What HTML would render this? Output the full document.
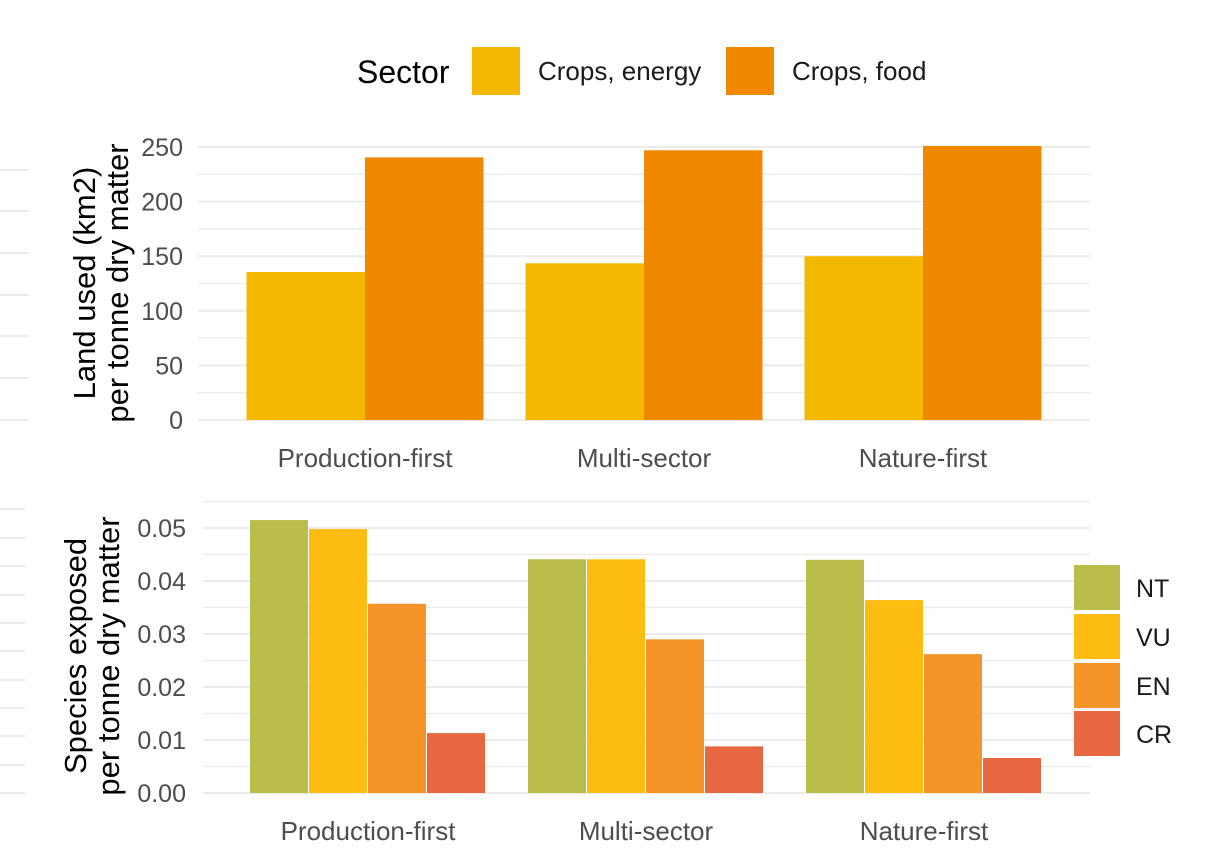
<!DOCTYPE html>
<html><head><meta charset="utf-8"><style>
html,body{margin:0;padding:0;background:#fff;}
svg{display:block;font-family:"Liberation Sans",Arial,sans-serif;}
</style></head><body>
<svg id="chart" width="1215" height="866" viewBox="0 0 1215 866" xmlns="http://www.w3.org/2000/svg">
<g id="stubs"></g>
<g id="topPanel"></g>
<g id="botPanel"></g>
<g>
<text x="357" y="83" font-size="32" fill="#000">Sector</text>
<rect x="472" y="47" width="48" height="48" fill="#F5B800"/>
<text x="538" y="80" font-size="26" fill="#1a1a1a">Crops, energy</text>
<rect x="726" y="47" width="48" height="48" fill="#F08800"/>
<text x="792" y="80" font-size="26" fill="#1a1a1a">Crops, food</text>
</g>
<g id="leg2"></g>
<text transform="translate(95,283) rotate(-90)" text-anchor="middle" font-size="31">Land used (km2)</text>
<text transform="translate(128,283) rotate(-90)" text-anchor="middle" font-size="31">per tonne dry matter</text>
<text transform="translate(86,656) rotate(-90)" text-anchor="middle" font-size="31">Species exposed</text>
<text transform="translate(119,656) rotate(-90)" text-anchor="middle" font-size="31">per tonne dry matter</text>
</svg>
<script>
const categories = ["Production-first","Multi-sector","Nature-first"];
const energyValues = [135.5, 143.5, 150];
const foodValues = [240.5, 247, 251];
const topTicks = [0,50,100,150,200,250];
const speciesSeries = ["NT","VU","EN","CR"];
const ntValues = [0.0515, 0.0441, 0.0440];
const vuValues = [0.0498, 0.0441, 0.0364];
const enValues = [0.0357, 0.0290, 0.0262];
const crValues = [0.0113, 0.0088, 0.0066];
const botTicks = [0,0.01,0.02,0.03,0.04,0.05];

const NS="http://www.w3.org/2000/svg";
function mk(parent,tag,attrs,text){const e=document.createElementNS(NS,tag);for(const k in attrs)e.setAttribute(k,attrs[k]);if(text!==undefined)e.textContent=text;parent.appendChild(e);return e;}
const stubs=document.getElementById('stubs');
[170,211,253,295,336,378,420].forEach(y=>{const l=mk(stubs,'line',{x1:0,x2:29,y1:y,y2:y,stroke:'#ebebeb','stroke-width':2});

});
[509,538,566,595,623,651,680,708,736,765,793].forEach(y=>{const l=mk(stubs,'line',{x1:0,x2:25,y1:y,y2:y,stroke:'#ebebeb','stroke-width':2});

});

// top panel
const topG=document.getElementById('topPanel');
const ty=v=>420-v*273/250;
const centers=[365,644,923];
const tx=i=>centers[i];
for(let v=0;v<=250;v+=25){const l=mk(topG,'line',{x1:198,x2:1090,y1:ty(v),y2:ty(v),stroke:'#ebebeb','stroke-width':v%50===0?2:1.3});

}
topTicks.forEach(v=>{const t=mk(topG,'text',{x:183,y:ty(v)+9,'text-anchor':'end','font-size':25,fill:'#4d4d4d'},String(v));

});
const bwTop=118.5;
categories.forEach((c,i)=>{
 const r1=mk(topG,'rect',{x:tx(i)-bwTop,y:ty(energyValues[i]),width:bwTop,height:ty(0)-ty(energyValues[i]),fill:'#F5B800'});
 
 
 const r2=mk(topG,'rect',{x:tx(i),y:ty(foodValues[i]),width:bwTop,height:ty(0)-ty(foodValues[i]),fill:'#F08800'});
 
 
 const t=mk(topG,'text',{x:tx(i),y:467,'text-anchor':'middle','font-size':26,fill:'#4d4d4d'},c);
 
 
});

// bottom panel
const botG=document.getElementById('botPanel');
const by=v=>793-v*5300;
const bcent=[368,646,924];
for(let k=0;k<=11;k++){const v=k*0.005;const l=mk(botG,'line',{x1:203,x2:1090,y1:by(v),y2:by(v),stroke:'#ebebeb','stroke-width':k%2===0?2:1.3});

}
botTicks.forEach(v=>{const t=mk(botG,'text',{x:186,y:by(v)+9,'text-anchor':'end','font-size':25,fill:'#4d4d4d'},v.toFixed(2));

});
const colors=['#BBBD4A','#FDBC11','#F59428','#E66740'];
const series=[ntValues,vuValues,enValues,crValues];
const bw=59;
categories.forEach((c,i)=>{
 series.forEach((s,j)=>{
  const x=bcent[i]-2*bw+j*bw;
  const r=mk(botG,'rect',{x:x,y:by(s[i]),width:bw-1,height:by(0)-by(s[i]),fill:colors[j]});
  
  
 });
 const t=mk(botG,'text',{x:bcent[i],y:840,'text-anchor':'middle','font-size':26,fill:'#4d4d4d'},c);
 
 
});
const leg2=document.getElementById('leg2');
const ly=[565,614,663,711];
speciesSeries.forEach((s,j)=>{
 const r=mk(leg2,'rect',{x:1074,y:ly[j],width:46,height:45,fill:colors[j]});
 
 
 const t=mk(leg2,'text',{x:1136,y:ly[j]+32,'font-size':25,fill:'#1a1a1a'},s);
 
 
});
</script>
</body></html>
